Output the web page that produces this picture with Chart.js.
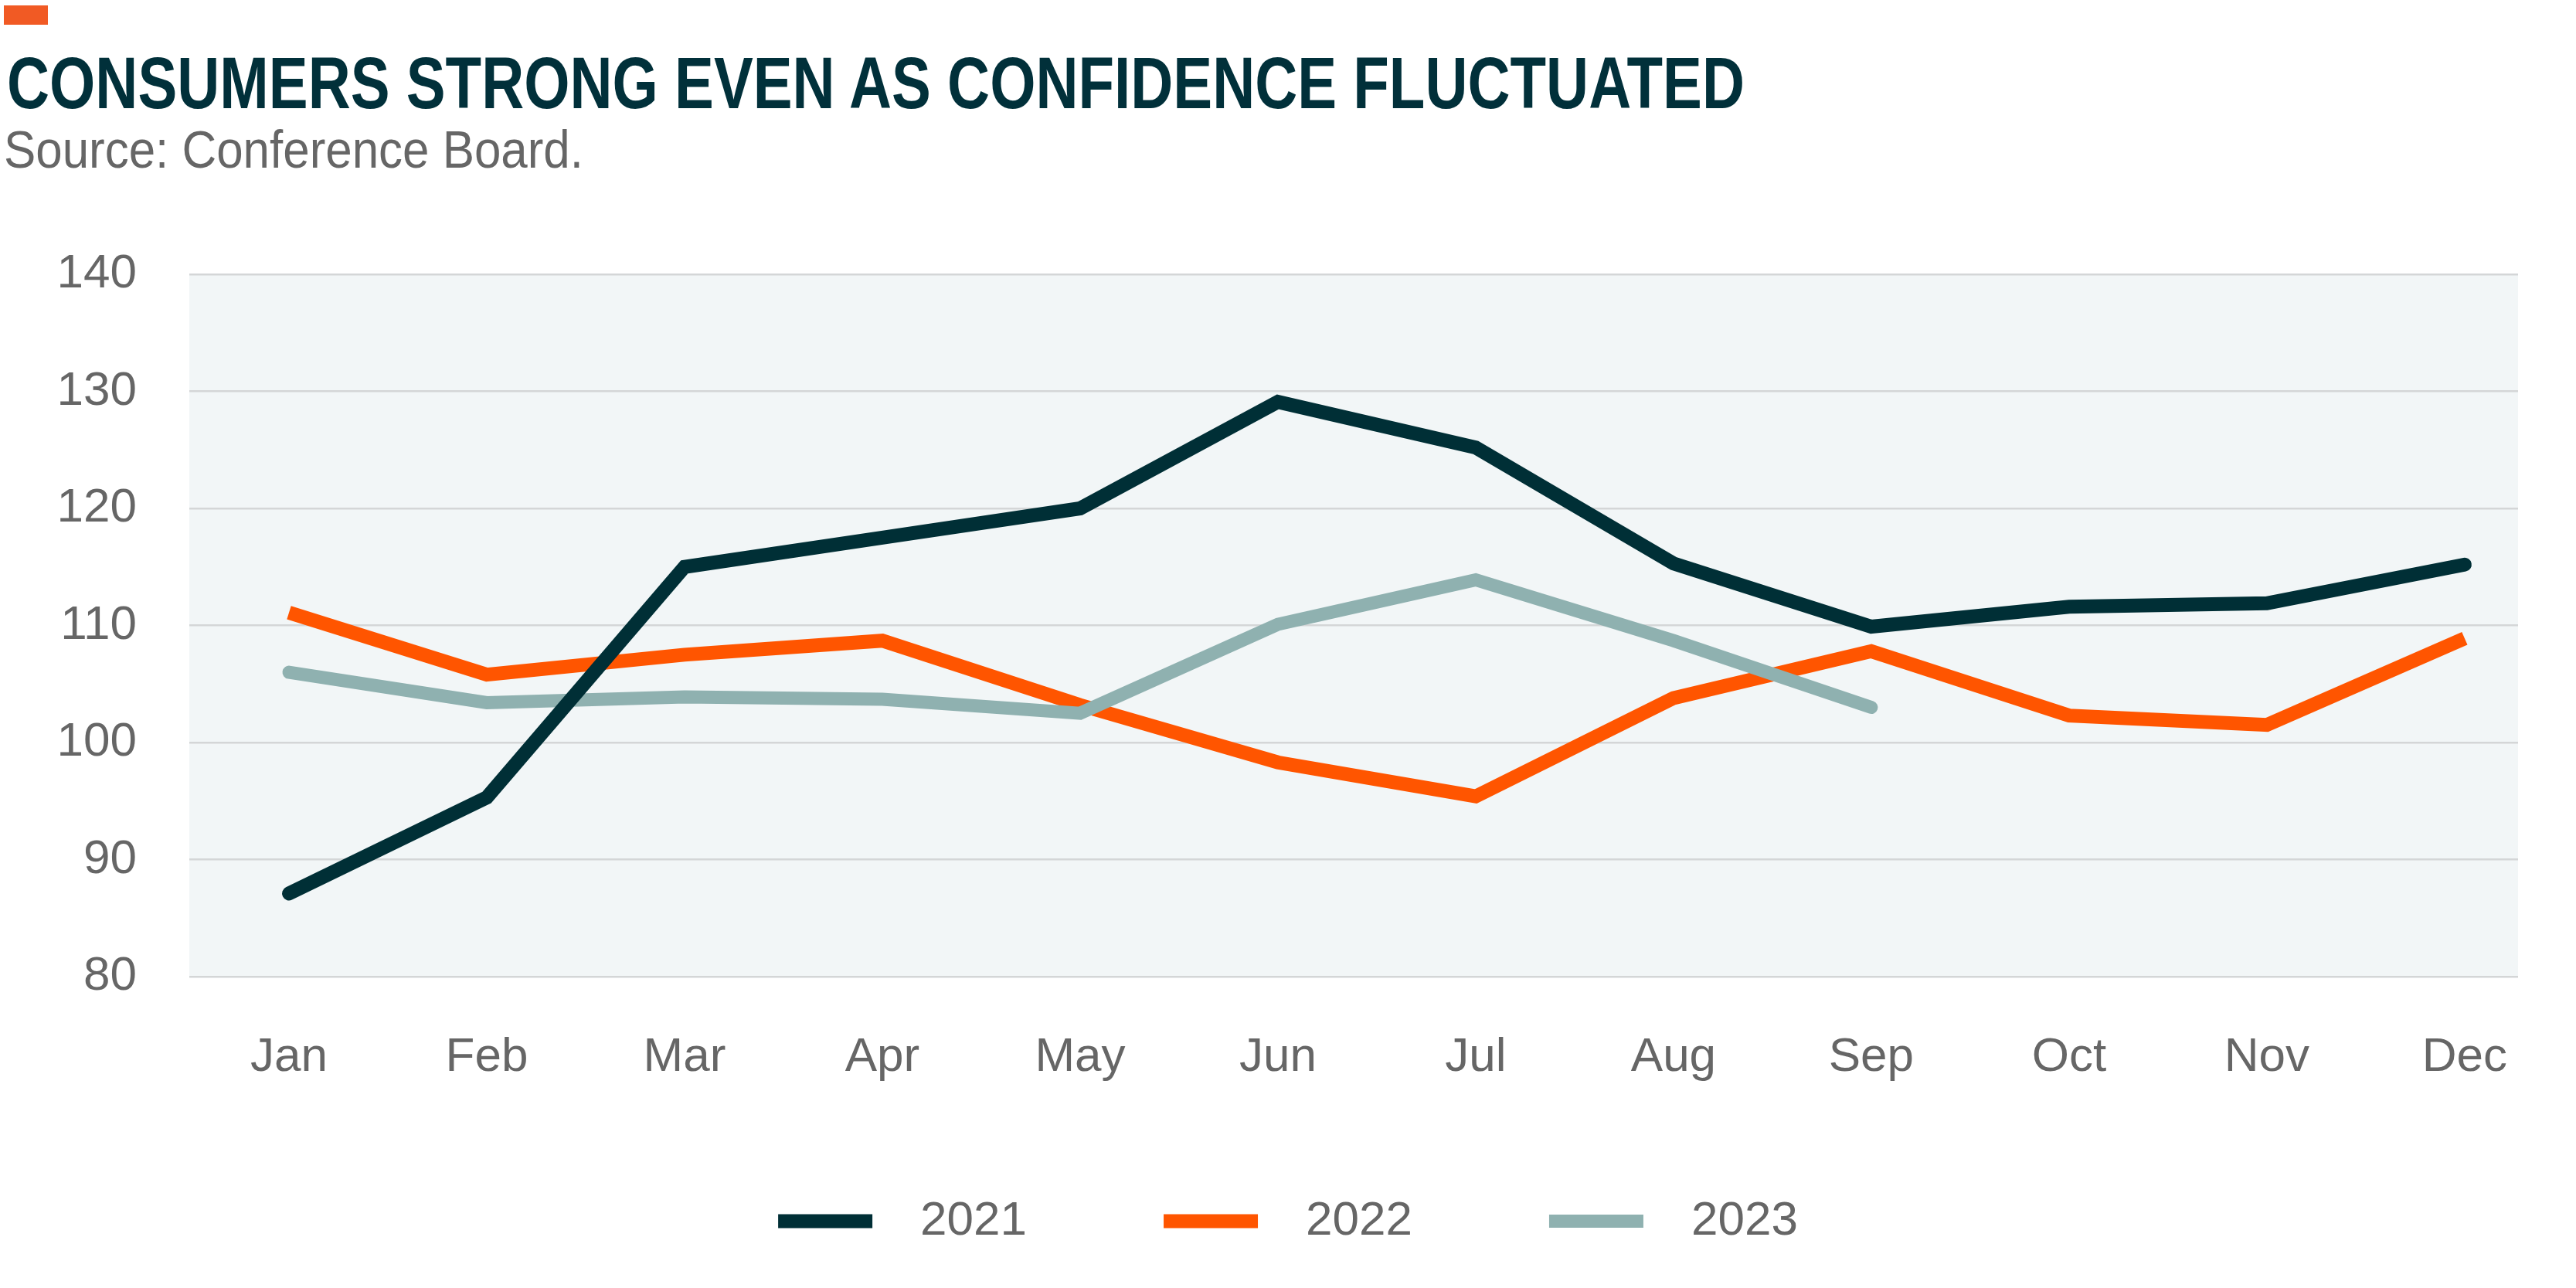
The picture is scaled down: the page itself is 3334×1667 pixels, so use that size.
<!DOCTYPE html>
<html>
<head>
<meta charset="utf-8">
<script src="https://cdn.jsdelivr.net/npm/chart.js@4.4.0/dist/chart.umd.min.js"></script>
<style>
  html, body { margin: 0; padding: 0; background: #fff; overflow: hidden; }
  #wrap { position: relative; width: 3334px; height: 1667px; }
  #chart { position: absolute; left: 0; top: 0; }
  .flag { position: absolute; left: 5px; top: 7px; width: 57px; height: 25px; background: #f15a24; }
  h1 {
    position: absolute; left: 9px; top: 61px; margin: 0;
    font: bold 94px/1 "Liberation Sans", Arial, sans-serif;
    color: #01303a; white-space: nowrap; transform-origin: 0 0;
  }
  .src {
    position: absolute; left: 5px; top: 159px; margin: 0;
    font: 68px/1 "Liberation Sans", Arial, sans-serif;
    color: #666; white-space: nowrap; transform-origin: 0 0;
  }
</style>
</head>
<body>
<div id="wrap">
  <canvas id="chart" width="3334" height="1667"></canvas>
  <div class="flag"></div>
  <h1 id="title">CONSUMERS STRONG EVEN AS CONFIDENCE FLUCTUATED</h1>
  <p class="src" id="src">Source: Conference Board.</p>
</div>
<script>
'use strict';

var months = ['Jan', 'Feb', 'Mar', 'Apr', 'May', 'Jun', 'Jul', 'Aug', 'Sep', 'Oct', 'Nov', 'Dec'];
var yTicks = [80, 90, 100, 110, 120, 130, 140];
var v2021 = [87.1, 95.3, 115.0, 117.5, 120.0, 129.1, 125.2, 115.3, 109.9, 111.6, 111.9, 115.2];
var v2022 = [111.1, 105.8, 107.5, 108.7, 103.2, 98.3, 95.4, 103.8, 107.8, 102.3, 101.5, 108.9];
var v2023 = [106.0, 103.4, 103.9, 103.7, 102.5, 110.1, 113.9, 108.7, 103.0];

var FONT = '"Liberation Sans", Arial, sans-serif';

function points(vals) {
  return vals.map(function(v, i) { return { x: i, y: v }; });
}

// squeeze header text to the condensed widths of the original
function fitWidth(id, w) {
  var el = document.getElementById(id);
  el.style.transform = 'none';
  var r = el.getBoundingClientRect().width;
  el.style.transform = 'scaleX(' + (w / r) + ')';
}
function fitHeader() {
  fitWidth('title', 2249);
  fitWidth('src', 750);
}
fitHeader();
if (document.fonts && document.fonts.ready) document.fonts.ready.then(fitHeader);

// light panel behind the plot
var plotBg = {
  id: 'plotBg',
  beforeDraw: function(chart) {
    var a = chart.chartArea;
    var ctx = chart.ctx;
    ctx.save();
    ctx.fillStyle = '#f2f6f7';
    ctx.fillRect(a.left, a.top, a.right - a.left, a.bottom - a.top);
    ctx.restore();
  }
};

new Chart(document.getElementById('chart'), {
  type: 'line',
  data: {
    datasets: [{
      label: '2021',
      data: points(v2021),
      borderColor: '#002f36',
      borderWidth: 18,
      borderCapStyle: 'round',
      order: 0
    }, {
      label: '2022',
      data: points(v2022),
      borderColor: '#ff5500',
      borderWidth: 18,
      borderCapStyle: 'butt',
      order: 2
    }, {
      label: '2023',
      data: points(v2023),
      borderColor: '#8fb1b0',
      borderWidth: 17,
      borderCapStyle: 'round',
      order: 1
    }]
  },
  options: {
    responsive: false,
    animation: false,
    devicePixelRatio: 1,
    layout: { padding: { top: 355, left: 0, right: 0, bottom: 45.5 } },
    elements: {
      point: { radius: 0, hoverRadius: 0 },
      line: { tension: 0, fill: false }
    },
    plugins: {
      tooltip: { enabled: false },
      legend: {
        position: 'bottom',
        align: 'center',
        labels: {
          usePointStyle: true,
          pointStyle: 'line',
          pointStyleWidth: 122,
          padding: 115,
          color: '#666',
          font: { family: FONT, size: 62 },
          sort: function(a, b) { return a.datasetIndex - b.datasetIndex; },
          generateLabels: function(chart) {
            var last = chart.data.datasets.length - 1;
            return Chart.defaults.plugins.legend.labels.generateLabels(chart).map(function(l) {
              l.text = '\u2002' + l.text + (l.datasetIndex < last ? '\u2002\u2002' : '');
              return l;
            });
          }
        }
      }
    },
    scales: {
      x: {
        type: 'linear',
        min: -0.504,
        max: 11.27,
        grid: { display: false, drawTicks: false },
        border: { display: false },
        afterBuildTicks: function(scale) {
          scale.ticks = months.map(function(m, i) { return { value: i }; });
        },
        afterFit: function(scale) { scale.height = 170.5; },
        ticks: {
          autoSkip: false,
          maxRotation: 0,
          padding: 68,
          color: '#666',
          font: { family: FONT, size: 62 },
          callback: function(v) { return months[v]; }
        }
      },
      y: {
        min: yTicks[0],
        max: yTicks[yTicks.length - 1],
        afterBuildTicks: function(scale) {
          scale.ticks = yTicks.map(function(v) { return { value: v }; });
        },
        afterFit: function(scale) { scale.width = 245; },
        grid: { color: '#d4d6d7', lineWidth: 2.5, drawTicks: false },
        border: { display: false },
        ticks: {
          padding: 68,
          color: '#666',
          font: { family: FONT, size: 62 }
        }
      },
      yR: {
        position: 'right',
        grid: { display: false, drawTicks: false },
        border: { display: false },
        ticks: { display: false },
        afterFit: function(scale) { scale.width = 75; }
      }
    }
  },
  plugins: [plotBg]
});
</script>
</body>
</html>
